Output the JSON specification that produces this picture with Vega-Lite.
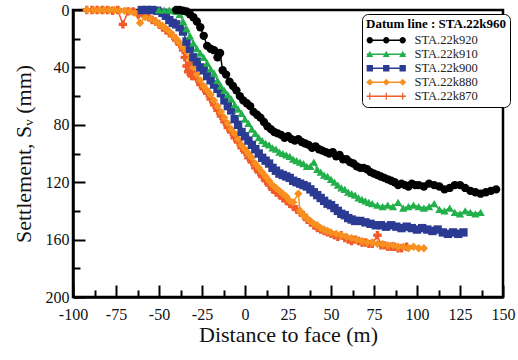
{
  "$schema": "https://vega.github.io/schema/vega-lite/v6.json",
  "width": 430,
  "height": 287,
  "autosize": {"type": "none"},
  "padding": {"left": 73, "top": 10, "right": 15, "bottom": 63},
  "config": {
    "font": "Times New Roman",
    "view": {"stroke": "#000", "strokeWidth": 2.5},
    "axis": {"domainColor": "#000", "domainWidth": 2.5, "tickColor": "#000", "tickWidth": 2, "grid": false, "labelFont": "Times New Roman", "labelFontSize": 16, "labelColor": "#111", "titleFont": "Times New Roman", "titleFontSize": 22, "titleFontWeight": "normal", "titleColor": "#111"},
    "legend": {"titleFont": "Times New Roman", "labelFont": "Times New Roman"}
  },
  "datasets": {
    "pts": [
      {"s":"STA.22k870","x":-92,"y":0},{"s":"STA.22k870","x":-89,"y":0},{"s":"STA.22k870","x":-86,"y":0},{"s":"STA.22k870","x":-83,"y":0},{"s":"STA.22k870","x":-80,"y":0},{"s":"STA.22k870","x":-77,"y":0.5},{"s":"STA.22k870","x":-74,"y":0},{"s":"STA.22k870","x":-71,"y":10},{"s":"STA.22k870","x":-68,"y":1},{"s":"STA.22k870","x":-65,"y":1},{"s":"STA.22k870","x":-62,"y":3},{"s":"STA.22k870","x":-60,"y":2},{"s":"STA.22k870","x":-58,"y":4},{"s":"STA.22k870","x":-56,"y":5},{"s":"STA.22k870","x":-54,"y":7},{"s":"STA.22k870","x":-52,"y":8},{"s":"STA.22k870","x":-50,"y":10},{"s":"STA.22k870","x":-48,"y":12},{"s":"STA.22k870","x":-46,"y":14},{"s":"STA.22k870","x":-44,"y":16},{"s":"STA.22k870","x":-42,"y":18},{"s":"STA.22k870","x":-40,"y":21},{"s":"STA.22k870","x":-38,"y":24},{"s":"STA.22k870","x":-36,"y":28},{"s":"STA.22k870","x":-35,"y":33},{"s":"STA.22k870","x":-34,"y":39},{"s":"STA.22k870","x":-33,"y":43},{"s":"STA.22k870","x":-32,"y":37},{"s":"STA.22k870","x":-31,"y":46},{"s":"STA.22k870","x":-30,"y":44},{"s":"STA.22k870","x":-28,"y":48},{"s":"STA.22k870","x":-26,"y":52},{"s":"STA.22k870","x":-24,"y":55},{"s":"STA.22k870","x":-22,"y":58},{"s":"STA.22k870","x":-20,"y":62},{"s":"STA.22k870","x":-18,"y":66},{"s":"STA.22k870","x":-16,"y":70},{"s":"STA.22k870","x":-14,"y":74},{"s":"STA.22k870","x":-12,"y":78},{"s":"STA.22k870","x":-10,"y":82},{"s":"STA.22k870","x":-8,"y":85},{"s":"STA.22k870","x":-6,"y":89},{"s":"STA.22k870","x":-4,"y":92},{"s":"STA.22k870","x":-2,"y":96},{"s":"STA.22k870","x":0,"y":99},{"s":"STA.22k870","x":2,"y":103},{"s":"STA.22k870","x":4,"y":106},{"s":"STA.22k870","x":6,"y":110},{"s":"STA.22k870","x":8,"y":113},{"s":"STA.22k870","x":10,"y":116},{"s":"STA.22k870","x":12,"y":119},{"s":"STA.22k870","x":14,"y":122},{"s":"STA.22k870","x":16,"y":125},{"s":"STA.22k870","x":18,"y":127},{"s":"STA.22k870","x":20,"y":129},{"s":"STA.22k870","x":22,"y":131},{"s":"STA.22k870","x":24,"y":133},{"s":"STA.22k870","x":26,"y":135},{"s":"STA.22k870","x":28,"y":137},{"s":"STA.22k870","x":30,"y":139},{"s":"STA.22k870","x":32,"y":141},{"s":"STA.22k870","x":34,"y":143},{"s":"STA.22k870","x":36,"y":146},{"s":"STA.22k870","x":38,"y":148},{"s":"STA.22k870","x":40,"y":150},{"s":"STA.22k870","x":42,"y":152},{"s":"STA.22k870","x":44,"y":153},{"s":"STA.22k870","x":46,"y":154},{"s":"STA.22k870","x":48,"y":155},{"s":"STA.22k870","x":50,"y":156},{"s":"STA.22k870","x":52,"y":157},{"s":"STA.22k870","x":54,"y":158},{"s":"STA.22k870","x":56,"y":157},{"s":"STA.22k870","x":58,"y":159},{"s":"STA.22k870","x":60,"y":160},{"s":"STA.22k870","x":62,"y":161},{"s":"STA.22k870","x":64,"y":160},{"s":"STA.22k870","x":66,"y":161},{"s":"STA.22k870","x":68,"y":162},{"s":"STA.22k870","x":70,"y":162},{"s":"STA.22k870","x":72,"y":163},{"s":"STA.22k870","x":74,"y":163},{"s":"STA.22k870","x":77,"y":157},{"s":"STA.22k870","x":79,"y":164},{"s":"STA.22k870","x":81,"y":164},{"s":"STA.22k870","x":83,"y":165},{"s":"STA.22k870","x":85,"y":165},{"s":"STA.22k870","x":87,"y":165},{"s":"STA.22k870","x":89,"y":166},{"s":"STA.22k870","x":91,"y":166},{"s":"STA.22k870","x":94,"y":165},
      {"s":"STA.22k880","x":-92,"y":0},{"s":"STA.22k880","x":-88,"y":0},{"s":"STA.22k880","x":-85,"y":0},{"s":"STA.22k880","x":-82,"y":0},{"s":"STA.22k880","x":-79,"y":0},{"s":"STA.22k880","x":-76,"y":0},{"s":"STA.22k880","x":-73,"y":0.5},{"s":"STA.22k880","x":-70,"y":0.5},{"s":"STA.22k880","x":-67,"y":1},{"s":"STA.22k880","x":-64,"y":2},{"s":"STA.22k880","x":-61,"y":9},{"s":"STA.22k880","x":-58,"y":5},{"s":"STA.22k880","x":-55,"y":6},{"s":"STA.22k880","x":-52,"y":8},{"s":"STA.22k880","x":-50,"y":10},{"s":"STA.22k880","x":-48,"y":11},{"s":"STA.22k880","x":-46,"y":13},{"s":"STA.22k880","x":-44,"y":15},{"s":"STA.22k880","x":-42,"y":18},{"s":"STA.22k880","x":-40,"y":20},{"s":"STA.22k880","x":-38,"y":23},{"s":"STA.22k880","x":-36,"y":26},{"s":"STA.22k880","x":-34,"y":29},{"s":"STA.22k880","x":-32,"y":34},{"s":"STA.22k880","x":-30,"y":40},{"s":"STA.22k880","x":-28,"y":45},{"s":"STA.22k880","x":-26,"y":49},{"s":"STA.22k880","x":-24,"y":53},{"s":"STA.22k880","x":-22,"y":56},{"s":"STA.22k880","x":-20,"y":59},{"s":"STA.22k880","x":-18,"y":63},{"s":"STA.22k880","x":-16,"y":67},{"s":"STA.22k880","x":-14,"y":71},{"s":"STA.22k880","x":-12,"y":75},{"s":"STA.22k880","x":-10,"y":79},{"s":"STA.22k880","x":-8,"y":83},{"s":"STA.22k880","x":-6,"y":86},{"s":"STA.22k880","x":-4,"y":90},{"s":"STA.22k880","x":-2,"y":94},{"s":"STA.22k880","x":0,"y":97},{"s":"STA.22k880","x":2,"y":100},{"s":"STA.22k880","x":4,"y":103},{"s":"STA.22k880","x":6,"y":107},{"s":"STA.22k880","x":8,"y":110},{"s":"STA.22k880","x":10,"y":113},{"s":"STA.22k880","x":12,"y":116},{"s":"STA.22k880","x":14,"y":119},{"s":"STA.22k880","x":16,"y":122},{"s":"STA.22k880","x":18,"y":124},{"s":"STA.22k880","x":20,"y":126},{"s":"STA.22k880","x":22,"y":128},{"s":"STA.22k880","x":24,"y":130},{"s":"STA.22k880","x":26,"y":133},{"s":"STA.22k880","x":28,"y":134},{"s":"STA.22k880","x":31,"y":128},{"s":"STA.22k880","x":32,"y":140},{"s":"STA.22k880","x":34,"y":143},{"s":"STA.22k880","x":36,"y":145},{"s":"STA.22k880","x":38,"y":147},{"s":"STA.22k880","x":40,"y":149},{"s":"STA.22k880","x":42,"y":150},{"s":"STA.22k880","x":44,"y":152},{"s":"STA.22k880","x":46,"y":153},{"s":"STA.22k880","x":48,"y":154},{"s":"STA.22k880","x":50,"y":155},{"s":"STA.22k880","x":53,"y":156},{"s":"STA.22k880","x":56,"y":157},{"s":"STA.22k880","x":59,"y":158},{"s":"STA.22k880","x":62,"y":159},{"s":"STA.22k880","x":65,"y":160},{"s":"STA.22k880","x":68,"y":161},{"s":"STA.22k880","x":71,"y":162},{"s":"STA.22k880","x":74,"y":162},{"s":"STA.22k880","x":77,"y":163},{"s":"STA.22k880","x":80,"y":163},{"s":"STA.22k880","x":83,"y":164},{"s":"STA.22k880","x":86,"y":164},{"s":"STA.22k880","x":89,"y":165},{"s":"STA.22k880","x":92,"y":165},{"s":"STA.22k880","x":95,"y":166},{"s":"STA.22k880","x":98,"y":165},{"s":"STA.22k880","x":101,"y":166},{"s":"STA.22k880","x":104,"y":166},
      {"s":"STA.22k900","x":-60,"y":0},{"s":"STA.22k900","x":-57,"y":0},{"s":"STA.22k900","x":-54,"y":0},{"s":"STA.22k900","x":-51,"y":0.5},{"s":"STA.22k900","x":-48,"y":2},{"s":"STA.22k900","x":-46,"y":4},{"s":"STA.22k900","x":-44,"y":7},{"s":"STA.22k900","x":-42,"y":9},{"s":"STA.22k900","x":-40,"y":10},{"s":"STA.22k900","x":-38,"y":12},{"s":"STA.22k900","x":-36,"y":15},{"s":"STA.22k900","x":-34,"y":22},{"s":"STA.22k900","x":-32,"y":27},{"s":"STA.22k900","x":-30,"y":33},{"s":"STA.22k900","x":-28,"y":36},{"s":"STA.22k900","x":-26,"y":40},{"s":"STA.22k900","x":-24,"y":42},{"s":"STA.22k900","x":-22,"y":46},{"s":"STA.22k900","x":-20,"y":49},{"s":"STA.22k900","x":-18,"y":52},{"s":"STA.22k900","x":-16,"y":55},{"s":"STA.22k900","x":-14,"y":58},{"s":"STA.22k900","x":-12,"y":63},{"s":"STA.22k900","x":-10,"y":67},{"s":"STA.22k900","x":-8,"y":70},{"s":"STA.22k900","x":-6,"y":76},{"s":"STA.22k900","x":-4,"y":80},{"s":"STA.22k900","x":-2,"y":85},{"s":"STA.22k900","x":0,"y":88},{"s":"STA.22k900","x":2,"y":91},{"s":"STA.22k900","x":4,"y":94},{"s":"STA.22k900","x":6,"y":97},{"s":"STA.22k900","x":8,"y":100},{"s":"STA.22k900","x":10,"y":103},{"s":"STA.22k900","x":12,"y":105},{"s":"STA.22k900","x":14,"y":107},{"s":"STA.22k900","x":16,"y":110},{"s":"STA.22k900","x":18,"y":112},{"s":"STA.22k900","x":20,"y":114},{"s":"STA.22k900","x":22,"y":115},{"s":"STA.22k900","x":24,"y":116},{"s":"STA.22k900","x":26,"y":117},{"s":"STA.22k900","x":28,"y":119},{"s":"STA.22k900","x":30,"y":120},{"s":"STA.22k900","x":32,"y":121},{"s":"STA.22k900","x":34,"y":122},{"s":"STA.22k900","x":36,"y":123},{"s":"STA.22k900","x":38,"y":125},{"s":"STA.22k900","x":40,"y":127},{"s":"STA.22k900","x":42,"y":129},{"s":"STA.22k900","x":44,"y":131},{"s":"STA.22k900","x":46,"y":133},{"s":"STA.22k900","x":48,"y":135},{"s":"STA.22k900","x":50,"y":136},{"s":"STA.22k900","x":52,"y":138},{"s":"STA.22k900","x":54,"y":140},{"s":"STA.22k900","x":56,"y":142},{"s":"STA.22k900","x":58,"y":143},{"s":"STA.22k900","x":60,"y":145},{"s":"STA.22k900","x":62,"y":146},{"s":"STA.22k900","x":64,"y":147},{"s":"STA.22k900","x":67,"y":147},{"s":"STA.22k900","x":70,"y":148},{"s":"STA.22k900","x":73,"y":149},{"s":"STA.22k900","x":76,"y":150},{"s":"STA.22k900","x":79,"y":150},{"s":"STA.22k900","x":82,"y":151},{"s":"STA.22k900","x":85,"y":150},{"s":"STA.22k900","x":88,"y":151},{"s":"STA.22k900","x":91,"y":152},{"s":"STA.22k900","x":94,"y":151},{"s":"STA.22k900","x":97,"y":152},{"s":"STA.22k900","x":100,"y":153},{"s":"STA.22k900","x":103,"y":152},{"s":"STA.22k900","x":106,"y":153},{"s":"STA.22k900","x":109,"y":154},{"s":"STA.22k900","x":112,"y":153},{"s":"STA.22k900","x":115,"y":155},{"s":"STA.22k900","x":118,"y":156},{"s":"STA.22k900","x":121,"y":155},{"s":"STA.22k900","x":124,"y":156},{"s":"STA.22k900","x":127,"y":155},
      {"s":"STA.22k910","x":-50,"y":0},{"s":"STA.22k910","x":-47,"y":0},{"s":"STA.22k910","x":-44,"y":0},{"s":"STA.22k910","x":-42,"y":0.5},{"s":"STA.22k910","x":-40,"y":1},{"s":"STA.22k910","x":-38,"y":3},{"s":"STA.22k910","x":-36,"y":8},{"s":"STA.22k910","x":-34,"y":13},{"s":"STA.22k910","x":-32,"y":18},{"s":"STA.22k910","x":-30,"y":23},{"s":"STA.22k910","x":-28,"y":27},{"s":"STA.22k910","x":-26,"y":30},{"s":"STA.22k910","x":-24,"y":33},{"s":"STA.22k910","x":-22,"y":37},{"s":"STA.22k910","x":-20,"y":41},{"s":"STA.22k910","x":-18,"y":44},{"s":"STA.22k910","x":-16,"y":49},{"s":"STA.22k910","x":-14,"y":53},{"s":"STA.22k910","x":-12,"y":56},{"s":"STA.22k910","x":-10,"y":59},{"s":"STA.22k910","x":-8,"y":62},{"s":"STA.22k910","x":-6,"y":66},{"s":"STA.22k910","x":-4,"y":69},{"s":"STA.22k910","x":-2,"y":72},{"s":"STA.22k910","x":0,"y":76},{"s":"STA.22k910","x":2,"y":79},{"s":"STA.22k910","x":4,"y":83},{"s":"STA.22k910","x":6,"y":86},{"s":"STA.22k910","x":8,"y":89},{"s":"STA.22k910","x":10,"y":91},{"s":"STA.22k910","x":12,"y":93},{"s":"STA.22k910","x":14,"y":94},{"s":"STA.22k910","x":16,"y":96},{"s":"STA.22k910","x":18,"y":97},{"s":"STA.22k910","x":20,"y":99},{"s":"STA.22k910","x":22,"y":100},{"s":"STA.22k910","x":24,"y":101},{"s":"STA.22k910","x":26,"y":102},{"s":"STA.22k910","x":28,"y":104},{"s":"STA.22k910","x":30,"y":105},{"s":"STA.22k910","x":32,"y":106},{"s":"STA.22k910","x":34,"y":107},{"s":"STA.22k910","x":36,"y":109},{"s":"STA.22k910","x":38,"y":109},{"s":"STA.22k910","x":40,"y":106},{"s":"STA.22k910","x":42,"y":111},{"s":"STA.22k910","x":44,"y":113},{"s":"STA.22k910","x":46,"y":115},{"s":"STA.22k910","x":48,"y":116},{"s":"STA.22k910","x":50,"y":118},{"s":"STA.22k910","x":52,"y":120},{"s":"STA.22k910","x":54,"y":122},{"s":"STA.22k910","x":56,"y":124},{"s":"STA.22k910","x":58,"y":125},{"s":"STA.22k910","x":60,"y":127},{"s":"STA.22k910","x":62,"y":128},{"s":"STA.22k910","x":64,"y":129},{"s":"STA.22k910","x":66,"y":131},{"s":"STA.22k910","x":68,"y":132},{"s":"STA.22k910","x":70,"y":133},{"s":"STA.22k910","x":72,"y":134},{"s":"STA.22k910","x":74,"y":135},{"s":"STA.22k910","x":77,"y":136},{"s":"STA.22k910","x":80,"y":137},{"s":"STA.22k910","x":83,"y":136},{"s":"STA.22k910","x":86,"y":137},{"s":"STA.22k910","x":89,"y":134},{"s":"STA.22k910","x":92,"y":138},{"s":"STA.22k910","x":95,"y":137},{"s":"STA.22k910","x":98,"y":136},{"s":"STA.22k910","x":101,"y":137},{"s":"STA.22k910","x":104,"y":138},{"s":"STA.22k910","x":107,"y":137},{"s":"STA.22k910","x":110,"y":135},{"s":"STA.22k910","x":113,"y":139},{"s":"STA.22k910","x":116,"y":140},{"s":"STA.22k910","x":119,"y":138},{"s":"STA.22k910","x":122,"y":141},{"s":"STA.22k910","x":125,"y":142},{"s":"STA.22k910","x":128,"y":140},{"s":"STA.22k910","x":131,"y":141},{"s":"STA.22k910","x":134,"y":142},{"s":"STA.22k910","x":137,"y":141},
      {"s":"STA.22k920","x":-40,"y":0},{"s":"STA.22k920","x":-38,"y":0},{"s":"STA.22k920","x":-36,"y":0.5},{"s":"STA.22k920","x":-34,"y":1},{"s":"STA.22k920","x":-32,"y":3},{"s":"STA.22k920","x":-30,"y":5},{"s":"STA.22k920","x":-28,"y":8},{"s":"STA.22k920","x":-26,"y":12},{"s":"STA.22k920","x":-24,"y":18},{"s":"STA.22k920","x":-22,"y":25},{"s":"STA.22k920","x":-20,"y":27},{"s":"STA.22k920","x":-18,"y":28},{"s":"STA.22k920","x":-16,"y":33},{"s":"STA.22k920","x":-14.5,"y":30},{"s":"STA.22k920","x":-13,"y":42},{"s":"STA.22k920","x":-11,"y":45},{"s":"STA.22k920","x":-9,"y":50},{"s":"STA.22k920","x":-7,"y":53},{"s":"STA.22k920","x":-5,"y":56},{"s":"STA.22k920","x":-3,"y":60},{"s":"STA.22k920","x":-1,"y":63},{"s":"STA.22k920","x":1,"y":65},{"s":"STA.22k920","x":3,"y":67},{"s":"STA.22k920","x":5,"y":71},{"s":"STA.22k920","x":7,"y":73},{"s":"STA.22k920","x":9,"y":75},{"s":"STA.22k920","x":11,"y":78},{"s":"STA.22k920","x":13,"y":81},{"s":"STA.22k920","x":15,"y":83},{"s":"STA.22k920","x":17,"y":85},{"s":"STA.22k920","x":19,"y":86},{"s":"STA.22k920","x":21,"y":87},{"s":"STA.22k920","x":23,"y":89},{"s":"STA.22k920","x":25,"y":88},{"s":"STA.22k920","x":27,"y":90},{"s":"STA.22k920","x":29,"y":91},{"s":"STA.22k920","x":31,"y":90},{"s":"STA.22k920","x":33,"y":92},{"s":"STA.22k920","x":35,"y":93},{"s":"STA.22k920","x":37,"y":94},{"s":"STA.22k920","x":39,"y":96},{"s":"STA.22k920","x":41,"y":95},{"s":"STA.22k920","x":43,"y":97},{"s":"STA.22k920","x":45,"y":98},{"s":"STA.22k920","x":47,"y":99},{"s":"STA.22k920","x":49,"y":100},{"s":"STA.22k920","x":51,"y":99},{"s":"STA.22k920","x":53,"y":102},{"s":"STA.22k920","x":55,"y":101},{"s":"STA.22k920","x":57,"y":104},{"s":"STA.22k920","x":59,"y":104},{"s":"STA.22k920","x":61,"y":106},{"s":"STA.22k920","x":63,"y":107},{"s":"STA.22k920","x":65,"y":109},{"s":"STA.22k920","x":67,"y":110},{"s":"STA.22k920","x":69,"y":110},{"s":"STA.22k920","x":71,"y":111},{"s":"STA.22k920","x":73,"y":113},{"s":"STA.22k920","x":75,"y":114},{"s":"STA.22k920","x":77,"y":115},{"s":"STA.22k920","x":79,"y":116},{"s":"STA.22k920","x":81,"y":117},{"s":"STA.22k920","x":83,"y":118},{"s":"STA.22k920","x":85,"y":119},{"s":"STA.22k920","x":87,"y":120},{"s":"STA.22k920","x":89,"y":122},{"s":"STA.22k920","x":91,"y":121},{"s":"STA.22k920","x":93,"y":122},{"s":"STA.22k920","x":95,"y":123},{"s":"STA.22k920","x":97,"y":121},{"s":"STA.22k920","x":99,"y":122},{"s":"STA.22k920","x":101,"y":122},{"s":"STA.22k920","x":104,"y":123},{"s":"STA.22k920","x":107,"y":121},{"s":"STA.22k920","x":110,"y":122},{"s":"STA.22k920","x":113,"y":123},{"s":"STA.22k920","x":116,"y":125},{"s":"STA.22k920","x":119,"y":124},{"s":"STA.22k920","x":122,"y":122},{"s":"STA.22k920","x":125,"y":122},{"s":"STA.22k920","x":128,"y":124},{"s":"STA.22k920","x":131,"y":126},{"s":"STA.22k920","x":134,"y":127},{"s":"STA.22k920","x":137,"y":128},{"s":"STA.22k920","x":140,"y":127},{"s":"STA.22k920","x":143,"y":126},{"s":"STA.22k920","x":146,"y":125}
    ]
  },
  "data": {"name": "pts"},
  "encoding": {
    "x": {"field": "x", "type": "quantitative", "scale": {"domain": [-100, 150], "nice": false, "zero": false},
      "axis": {"title": "Distance to face (m)", "values": [-100,-87.5,-75,-62.5,-50,-37.5,-25,-12.5,0,12.5,25,37.5,50,62.5,75,87.5,100,112.5,125,137.5,150], "labelExpr": "datum.value % 25 === 0 ? '' + datum.value : ''", "tickSize": {"condition": {"test": "datum.value % 25 === 0", "value": -12}, "value": -7}, "labelPadding": 21, "titlePadding": 2, "labelFlush": false}},
    "y": {"field": "y", "type": "quantitative", "scale": {"domain": [0, 200], "nice": false, "reverse": true},
      "axis": {"title": "Settlement, Sᵥ (mm)", "values": [0,20,40,60,80,100,120,140,160,180,200], "labelExpr": "datum.value % 40 === 0 ? datum.label : ''", "tickSize": {"condition": {"test": "datum.value % 40 === 0", "value": -12}, "value": -7}, "labelPadding": 16, "titlePadding": 10, "labelFlush": false}}
  },
  "layer": [
    {
      "mark": {"type": "line", "strokeWidth": 1.5},
      "encoding": {
        "color": {"field": "s", "type": "nominal", "legend": null, "scale": {"domain": ["STA.22k920","STA.22k910","STA.22k900","STA.22k880","STA.22k870"], "range": ["#000000","#22b04b","#2b3a92","#f7901e","#f15a29"]}},
        "order": {"field": "x", "type": "quantitative"}
      }
    },
    {
      "mark": {"type": "point", "filled": true, "opacity": 1},
      "encoding": {
        "color": {"field": "s", "type": "nominal", "legend": null, "scale": {"domain": ["STA.22k920","STA.22k910","STA.22k900","STA.22k880","STA.22k870"], "range": ["#000000","#22b04b","#2b3a92","#f7901e","#f15a29"]}},
        "shape": {"field": "s", "type": "nominal", "legend": null, "scale": {"domain": ["STA.22k920","STA.22k910","STA.22k900","STA.22k880","STA.22k870"], "range": ["circle","triangle-up","square","diamond","cross"]}},
        "size": {"value": 70}
      }
    },
    {
      "transform": [{"filter": "false"}],
      "mark": {"type": "point", "filled": true, "opacity": 1},
      "encoding": {
        "color": {"field": "s", "type": "nominal", "scale": {"domain": ["STA.22k920","STA.22k910","STA.22k900","STA.22k880","STA.22k870"], "range": ["#000000","#22b04b","#2b3a92","#f7901e","#f15a29"]},
          "legend": {"title": "Datum line : STA.22k960", "orient": "none", "legendX": 289, "legendY": 4, "strokeColor": "#000", "cornerRadius": 6, "padding": 4, "fillColor": "#fff", "titleFontWeight": "bold", "titleFontSize": 13, "titleColor": "#000", "labelFontSize": 12.5, "labelColor": "#222", "symbolSize": 40, "symbolStrokeWidth": 0, "symbolOffset": 14, "labelOffset": 22, "rowPadding": 1, "titlePadding": 3}},
        "shape": {"field": "s", "type": "nominal", "scale": {"domain": ["STA.22k920","STA.22k910","STA.22k900","STA.22k880","STA.22k870"], "range": [
          "M-6.2,-0.22H6.2V0.22H-6.2Z M-4.2,0A1,1 0 1,1 -6.2,0A1,1 0 1,1 -4.2,0Z M1,0A1,1 0 1,1 -1,0A1,1 0 1,1 1,0Z M6.2,0A1,1 0 1,1 4.2,0A1,1 0 1,1 6.2,0Z",
          "M-6.2,-0.22H6.2V0.22H-6.2Z M-5.2,-1.1L-4.1,0.9H-6.3Z M0,-1.1L1.1,0.9H-1.1Z M5.2,-1.1L6.3,0.9H4.1Z",
          "M-6.2,-0.22H6.2V0.22H-6.2Z M-6.2,-1H-4.2V1H-6.2Z M-1,-1H1V1H-1Z M4.2,-1H6.2V1H4.2Z",
          "M-6.2,-0.22H6.2V0.22H-6.2Z M-5.2,-1.1L-4.1,0L-5.2,1.1L-6.3,0Z M0,-1.1L1.1,0L0,1.1L-1.1,0Z M5.2,-1.1L6.3,0L5.2,1.1L4.1,0Z",
          "M-6.2,-0.22H6.2V0.22H-6.2Z M-5.4,-1.1H-5V1.1H-5.4Z M-0.2,-1.1H0.2V1.1H-0.2Z M5,-1.1H5.4V1.1H5Z"
        ]}}
      }
    }
  ],
  "resolve": {"scale": {"color": "independent", "shape": "independent"}}
}
